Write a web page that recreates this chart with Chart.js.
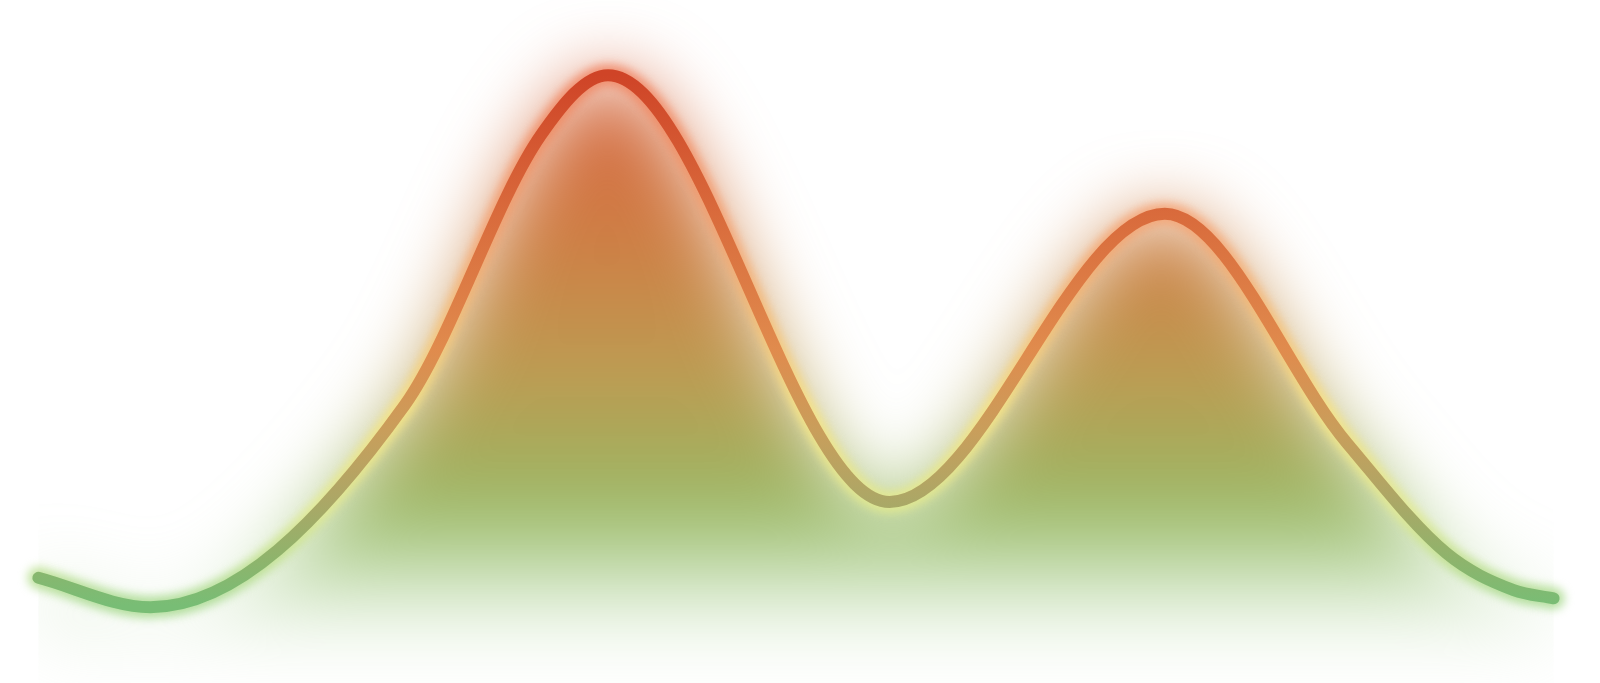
<!DOCTYPE html>
<html>
<head>
<meta charset="utf-8">
<script src="https://cdn.jsdelivr.net/npm/chart.js@4.4.1/dist/chart.umd.min.js"></script>
<style>
  html, body { margin: 0; padding: 0; background: #ffffff; }
  #wrap { width: 1600px; height: 683px; position: relative; }
</style>
</head>
<body>
<div id="wrap"><canvas id="glow-chart"></canvas></div>
<script>
// positions along the curve (0-100) and the level read at each of them (0-100)
const xValues = [2.4, 9.4, 25.3, 33.8, 38.0, 55.6, 72.8, 84.2, 90.4, 94.6, 97.1];
const yValues = [15.4, 11.1, 40.7, 80.2, 89.0, 26.5, 68.7, 35.1, 19.0, 13.6, 12.4];

// colour stops keyed by value level (top = high)
const lineStops = [
  [89, "#cf4427"], [68.5, "#d96b3c"], [48.8, "#e08b4d"], [37, "#c99e5b"],
  [26.8, "#aca766"], [18, "#8eb46c"], [11.4, "#78bd75"]
];
const glowStops = [
  [92, "rgba(240,100,60,0.6)"], [66, "rgba(250,150,90,0.6)"], [40, "rgba(250,230,130,0.85)"],
  [25, "rgba(228,236,140,0.8)"], [12, "rgba(150,210,120,0.7)"]
];
const fillStops = [
  [97, "rgba(215,85,55,0.95)"], [66, "rgba(205,118,58,0.95)"], [45, "rgba(185,150,72,0.94)"],
  [28, "rgba(150,176,88,0.95)"], [20, "rgba(155,195,115,0.8)"], [11, "rgba(185,218,170,0.38)"],
  [3, "rgba(255,255,255,0)"]
];

const points = xValues.map((x, i) => ({ x, y: yValues[i] }));

function makeGradient(chart, stops) {
  const yScale = chart.scales.y;
  if (!chart.chartArea || !yScale) return null;
  const top = yScale.getPixelForValue(100);
  const bottom = yScale.getPixelForValue(0);
  const g = chart.ctx.createLinearGradient(0, top, 0, bottom);
  stops.forEach(([v, c]) => g.addColorStop((100 - v) / 100, c));
  return g;
}

// blur the fill dataset and the glow dataset, keep the main line sharp
const blurPlugin = {
  id: "blurLayers",
  beforeDatasetsDraw(chart) {
    chart.ctx.filter = "blur(38px)";
  },
  afterDatasetDraw(chart, args) {
    if (args.index === 2) chart.ctx.filter = "blur(5px)";
    else chart.ctx.filter = "none";
  },
  afterDatasetsDraw(chart) {
    chart.ctx.filter = "none";
  }
};

new Chart(document.getElementById("glow-chart"), {
  type: "line",
  data: {
    datasets: [
      {
        label: "line",
        data: points,
        order: 1,
        borderWidth: 12,
        borderCapStyle: "round",
        borderColor: ctx => makeGradient(ctx.chart, lineStops),
        fill: false
      },
      {
        label: "glow",
        data: points,
        order: 2,
        borderWidth: 22,
        borderCapStyle: "round",
        borderColor: ctx => makeGradient(ctx.chart, glowStops),
        fill: false
      },
      {
        label: "area",
        data: points,
        order: 3,
        borderWidth: 1,
        borderColor: "rgba(0,0,0,0)",
        backgroundColor: ctx => makeGradient(ctx.chart, fillStops),
        fill: "start"
      }
    ]
  },
  options: {
    responsive: true,
    maintainAspectRatio: false,
    animation: false,
    layout: { padding: 0 },
    elements: {
      point: { radius: 0, hoverRadius: 0 },
      line: { cubicInterpolationMode: "monotone" }
    },
    scales: {
      x: { type: "linear", min: 0, max: 100, display: false },
      y: { min: 0, max: 100, display: false }
    },
    plugins: {
      legend: { display: false },
      tooltip: { enabled: false }
    }
  },
  plugins: [blurPlugin]
});
</script>
</body>
</html>
